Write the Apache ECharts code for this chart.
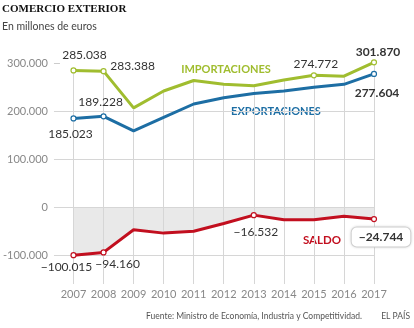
<!DOCTYPE html>
<html><head><meta charset="utf-8">
<script src="https://cdn.jsdelivr.net/npm/echarts@6/dist/echarts.min.js"></script>
<style>html,body{margin:0;padding:0;background:#fff}#c{width:414px;height:328px}</style>
</head><body><div id="c"></div>
<script>
const years = [2007,2008,2009,2010,2011,2012,2013,2014,2015,2016,2017];
const importaciones = [285038,283388,207000,242000,264000,256000,253000,265000,274772,273000,301870];
const exportaciones = [185023,189228,159000,187000,215000,228000,237000,242000,250000,256000,277604];
const saldo = [-100015,-94160,-47000,-54000,-50000,-34000,-16532,-26000,-26000,-19000,-24744];
const yTicks = [-100000,0,100000,200000,300000];
const gridValues = [-100000,0,100000,200000];

const GREEN='#a0bd2f', BLUE='#1d6ea4', RED='#c20f1f';
const FONT='Lato';
function fmt(v){const s=Math.abs(v).toString().replace(/\B(?=(\d{3})+(?!\d))/g,'.');return (v<0?'−':'')+s;}

const X_MIN=2006.35, X_MAX=2017, Y_MIN=-160000, Y_MAX=340000;

// label specs: index -> [dx, dy, bold, boxed]
const impLabels={0:[11,-15],1:[29,-5],8:[2,-11],10:[4,-10,true]};
const expLabels={0:[-3,16],1:[-3,-14],10:[3,19,true]};
const salLabels={0:[-7,12],1:[14,12],6:[2,17],10:[7,18,true,true]};

function build(vals,color,spec){
  return years.map((y,i)=>{
    const s=spec[i];
    if(!s) return {value:[y,vals[i]],symbol:'none'};
    const lab={show:true,position:'inside',offset:[s[0],s[1]],formatter:p=>fmt(p.value[1]),
      color:'#333',fontFamily:FONT,fontSize:12,fontWeight:s[2]?'bold':'normal'};
    if(s[3]){Object.assign(lab,{backgroundColor:'#fff',borderColor:'#d8d8d8',borderWidth:1,borderRadius:5,padding:[4,7,3,7],
      shadowColor:'rgba(0,0,0,0.12)',shadowBlur:3});}
    return {value:[y,vals[i]],symbol:'circle',symbolSize:5,label:lab};
  });
}

const chart=echarts.init(document.getElementById('c'),null,{renderer:'canvas'});
chart.setOption({
  animation:false,
  backgroundColor:'#fff',
  grid:{left:50,right:40,top:44,bottom:44},
  xAxis:{type:'value',min:X_MIN,max:X_MAX,splitLine:{show:false},axisLine:{show:false},axisTick:{show:false},
    axisLabel:{customValues:years,formatter:v=>String(v),color:'#888',fontFamily:FONT,fontSize:11,margin:5}},
  yAxis:{type:'value',min:Y_MIN,max:Y_MAX,splitLine:{show:false},axisLine:{show:false},
    axisTick:{show:true,inside:true,length:6,customValues:[300000],lineStyle:{color:'#ccc'}},
    axisLabel:{customValues:yTicks,formatter:v=>v<0?'-'+fmt(-v):fmt(v),color:'#888',fontFamily:FONT,fontSize:11,margin:6}},
  series:[
    {type:'line',name:'area',data:years.map((y,i)=>[y,saldo[i]]),symbol:'none',lineStyle:{width:0},
      areaStyle:{color:'#e9e9e9',opacity:1},z:1,silent:true},
    {type:'line',name:'grid',data:years.map((y,i)=>[y,importaciones[i]]),symbol:'none',lineStyle:{opacity:0},z:2,silent:true,
      markLine:{silent:true,symbol:'none',label:{show:false},animation:false,
        lineStyle:{color:'#d6d6d6',width:1,type:'solid'},
        data:gridValues.map(v=>({yAxis:v})).concat(
          years.map((y,i)=>[{coord:[y,importaciones[i]]},{coord:[y,Y_MIN]}]))}},
    {type:'line',name:'IMPORTACIONES',data:build(importaciones,GREEN,impLabels),
      lineStyle:{color:GREEN,width:3},itemStyle:{color:'#fff',borderColor:GREEN,borderWidth:1.2},z:5},
    {type:'line',name:'EXPORTACIONES',data:build(exportaciones,BLUE,expLabels),
      lineStyle:{color:BLUE,width:3},itemStyle:{color:'#fff',borderColor:BLUE,borderWidth:1.2},z:5},
    {type:'line',name:'SALDO',data:build(saldo,RED,salLabels),
      lineStyle:{color:RED,width:3},itemStyle:{color:'#fff',borderColor:RED,borderWidth:1.2},z:5}
  ],
  graphic:[
    {type:'text',left:2,top:4,style:{text:'COMERCIO EXTERIOR',font:'bold 11px "Liberation Serif"',fill:'#111'}},
    {type:'text',left:2,top:21,style:{text:'En millones de euros',font:'10.5px Lato',fill:'#444'}},
    {type:'text',x:226,y:69,style:{text:'IMPORTACIONES',font:'bold 11px Lato',fill:GREEN,align:'center',verticalAlign:'middle',backgroundColor:'#fff',padding:[1,3]}},
    {type:'text',x:276,y:111,style:{text:'EXPORTACIONES',font:'bold 11px Lato',fill:BLUE,align:'center',verticalAlign:'middle',backgroundColor:'#fff',padding:[1,3]}},
    {type:'text',x:322,y:240,style:{text:'SALDO',font:'bold 11.5px Lato',fill:RED,align:'center',verticalAlign:'middle'}},
    {type:'text',x:362,y:316,style:{text:'Fuente: Ministro de Economía, Industria y Competitividad.',font:'8.5px Lato',fill:'#555',align:'right',verticalAlign:'middle'}},
    {type:'text',x:410,y:316,style:{text:'EL PAÍS',font:'8.5px Lato',fill:'#555',align:'right',verticalAlign:'middle'}}
  ]
});
</script></body></html>
